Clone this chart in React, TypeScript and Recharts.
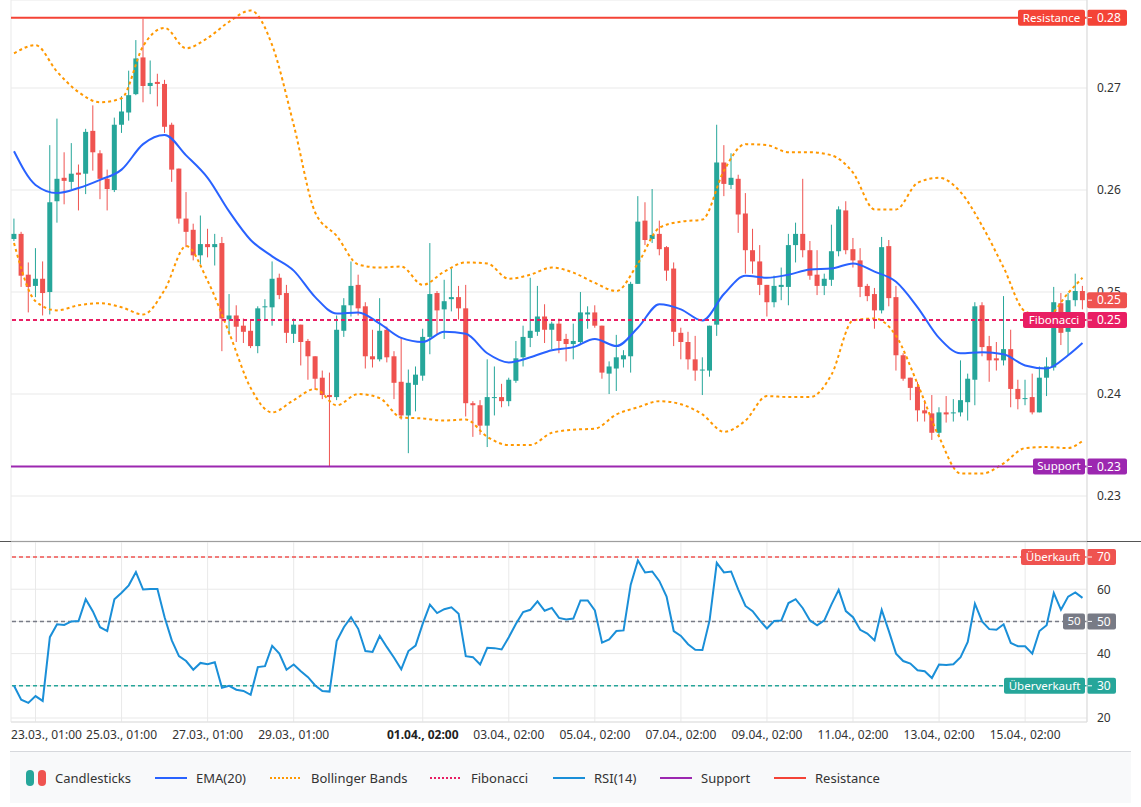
import React from 'react';
import {
  ComposedChart, Bar, Line, XAxis, YAxis, CartesianGrid, ReferenceLine,
} from 'recharts';

// 4h candles, 22.03. 13:00 -> 16.04. 10:00 (index based x axis)
const opens = [
  0.2552, 0.2557, 0.2517, 0.2506, 0.2513, 0.2500, 0.2589, 0.2612, 0.2608, 0.2617,
  0.2616, 0.2658, 0.2636, 0.2611, 0.2600, 0.2664, 0.2676, 0.2694, 0.2730, 0.2702,
  0.2706, 0.2704, 0.2664, 0.2621, 0.2572, 0.2561, 0.2536, 0.2547, 0.2544, 0.2548,
  0.2473, 0.2477, 0.2467, 0.2462, 0.2447, 0.2485, 0.2485, 0.2514, 0.2499, 0.2459,
  0.2468, 0.2452, 0.2437, 0.2416, 0.2399, 0.2397, 0.2462, 0.2487, 0.2507, 0.2486,
  0.2437, 0.2434, 0.2463, 0.2437, 0.2412, 0.2379, 0.2409, 0.2418, 0.2456, 0.2499,
  0.2483, 0.2493, 0.2495, 0.2484, 0.2391, 0.2389, 0.2369, 0.2396, 0.2397, 0.2393,
  0.2413, 0.2436, 0.2455, 0.2461, 0.2476, 0.2463, 0.2469, 0.2454, 0.2449, 0.2451,
  0.2478, 0.2480, 0.2467, 0.2420, 0.2425, 0.2434, 0.2437, 0.2508, 0.2570, 0.2552,
  0.2557, 0.2544, 0.2523, 0.2460, 0.2451, 0.2434, 0.2423, 0.2423, 0.2468, 0.2627,
  0.2605, 0.2611, 0.2577, 0.2541, 0.2530, 0.2507, 0.2490, 0.2505, 0.2505, 0.2546,
  0.2557, 0.2541, 0.2517, 0.2506, 0.2512, 0.2540, 0.2580, 0.2542, 0.2531, 0.2506,
  0.2498, 0.2482, 0.2545, 0.2495, 0.2438, 0.2416, 0.2407, 0.2384, 0.2381, 0.2362,
  0.2382, 0.2381, 0.2382, 0.2392, 0.2414, 0.2487, 0.2447, 0.2435, 0.2433, 0.2444,
  0.2405, 0.2395, 0.2397, 0.2382, 0.2416, 0.2426, 0.2489, 0.2461, 0.2492, 0.2501,
];
const highs = [
  0.2572, 0.2559, 0.2529, 0.2543, 0.2530, 0.2644, 0.2670, 0.2637, 0.2646, 0.2625,
  0.2660, 0.2683, 0.2639, 0.2620, 0.2671, 0.2692, 0.2717, 0.2747, 0.2768, 0.2727,
  0.2714, 0.2708, 0.2666, 0.2621, 0.2598, 0.2567, 0.2575, 0.2562, 0.2557, 0.2554,
  0.2498, 0.2487, 0.2474, 0.2473, 0.2486, 0.2493, 0.2530, 0.2518, 0.2507, 0.2474,
  0.2468, 0.2454, 0.2437, 0.2423, 0.2421, 0.2477, 0.2494, 0.2530, 0.2517, 0.2490,
  0.2463, 0.2494, 0.2466, 0.2442, 0.2455, 0.2424, 0.2427, 0.2464, 0.2548, 0.2501,
  0.2512, 0.2523, 0.2506, 0.2507, 0.2393, 0.2394, 0.2434, 0.2427, 0.2410, 0.2416,
  0.2452, 0.2467, 0.2514, 0.2506, 0.2488, 0.2471, 0.2474, 0.2459, 0.2469, 0.2500,
  0.2486, 0.2487, 0.2467, 0.2432, 0.2458, 0.2443, 0.2510, 0.2594, 0.2588, 0.2601,
  0.2570, 0.2545, 0.2529, 0.2465, 0.2461, 0.2457, 0.2436, 0.2467, 0.2664, 0.2644,
  0.2636, 0.2615, 0.2597, 0.2562, 0.2546, 0.2507, 0.2516, 0.2524, 0.2557, 0.2568,
  0.2611, 0.2550, 0.2541, 0.2518, 0.2566, 0.2584, 0.2589, 0.2553, 0.2543, 0.2508,
  0.2504, 0.2554, 0.2551, 0.2506, 0.2440, 0.2416, 0.2412, 0.2394, 0.2399, 0.2387,
  0.2398, 0.2395, 0.2433, 0.2420, 0.2490, 0.2490, 0.2457, 0.2451, 0.2496, 0.2463,
  0.2414, 0.2414, 0.2420, 0.2427, 0.2436, 0.2505, 0.2499, 0.2499, 0.2518, 0.2506,
];
const lows = [
  0.2550, 0.2505, 0.2480, 0.2495, 0.2477, 0.2478, 0.2568, 0.2586, 0.2601, 0.2580,
  0.2596, 0.2619, 0.2591, 0.2580, 0.2598, 0.2656, 0.2668, 0.2693, 0.2686, 0.2694,
  0.2682, 0.2656, 0.2608, 0.2567, 0.2544, 0.2531, 0.2527, 0.2534, 0.2526, 0.2442,
  0.2458, 0.2451, 0.2450, 0.2445, 0.2440, 0.2472, 0.2467, 0.2493, 0.2450, 0.2450,
  0.2428, 0.2414, 0.2404, 0.2395, 0.2329, 0.2394, 0.2456, 0.2476, 0.2477, 0.2425,
  0.2426, 0.2432, 0.2431, 0.2395, 0.2375, 0.2342, 0.2383, 0.2413, 0.2439, 0.2458,
  0.2454, 0.2481, 0.2473, 0.2378, 0.2358, 0.2360, 0.2348, 0.2379, 0.2387, 0.2388,
  0.2411, 0.2427, 0.2446, 0.2457, 0.2450, 0.2444, 0.2440, 0.2432, 0.2434, 0.2449,
  0.2464, 0.2465, 0.2415, 0.2400, 0.2403, 0.2426, 0.2421, 0.2508, 0.2546, 0.2548,
  0.2536, 0.2511, 0.2447, 0.2434, 0.2424, 0.2413, 0.2399, 0.2417, 0.2457, 0.2594,
  0.2601, 0.2558, 0.2518, 0.2518, 0.2497, 0.2476, 0.2485, 0.2492, 0.2487, 0.2529,
  0.2534, 0.2512, 0.2497, 0.2497, 0.2506, 0.2535, 0.2537, 0.2524, 0.2495, 0.2491,
  0.2464, 0.2479, 0.2486, 0.2423, 0.2413, 0.2394, 0.2373, 0.2373, 0.2355, 0.2358,
  0.2372, 0.2373, 0.2378, 0.2374, 0.2389, 0.2437, 0.2412, 0.2423, 0.2428, 0.2387,
  0.2385, 0.2389, 0.2380, 0.2382, 0.2398, 0.2423, 0.2448, 0.2438, 0.2486, 0.2483,
];
const closes = [
  0.2557, 0.2516, 0.2505, 0.2513, 0.2499, 0.2588, 0.2611, 0.2609, 0.2616, 0.2615,
  0.2657, 0.2637, 0.2611, 0.2601, 0.2664, 0.2677, 0.2693, 0.2729, 0.2702, 0.2705,
  0.2704, 0.2662, 0.2620, 0.2572, 0.2559, 0.2536, 0.2547, 0.2544, 0.2547, 0.2474,
  0.2477, 0.2466, 0.2461, 0.2447, 0.2484, 0.2486, 0.2513, 0.2497, 0.2460, 0.2468,
  0.2451, 0.2437, 0.2415, 0.2399, 0.2397, 0.2463, 0.2487, 0.2506, 0.2484, 0.2437,
  0.2434, 0.2462, 0.2436, 0.2411, 0.2379, 0.2411, 0.2419, 0.2456, 0.2498, 0.2482,
  0.2491, 0.2495, 0.2484, 0.2391, 0.2389, 0.2369, 0.2397, 0.2397, 0.2393, 0.2414,
  0.2435, 0.2456, 0.2462, 0.2476, 0.2463, 0.2469, 0.2452, 0.2449, 0.2452, 0.2480,
  0.2480, 0.2467, 0.2421, 0.2427, 0.2436, 0.2438, 0.2508, 0.2569, 0.2551, 0.2556,
  0.2542, 0.2521, 0.2461, 0.2451, 0.2434, 0.2423, 0.2424, 0.2467, 0.2627, 0.2606,
  0.2612, 0.2576, 0.2541, 0.2530, 0.2507, 0.2490, 0.2506, 0.2507, 0.2546, 0.2557,
  0.2541, 0.2516, 0.2506, 0.2513, 0.2540, 0.2581, 0.2541, 0.2531, 0.2505, 0.2496,
  0.2482, 0.2544, 0.2494, 0.2438, 0.2415, 0.2406, 0.2384, 0.2381, 0.2362, 0.2382,
  0.2380, 0.2382, 0.2394, 0.2415, 0.2486, 0.2446, 0.2433, 0.2433, 0.2444, 0.2405,
  0.2395, 0.2396, 0.2382, 0.2416, 0.2427, 0.2490, 0.2460, 0.2492, 0.2501, 0.2492,
];

const rsiValues = [
  30.0, 25.7, 24.7, 26.8, 25.3, 45.1, 49.1, 48.9, 50.0, 50.1,
  56.9, 53.1, 48.2, 47.0, 56.9, 58.9, 61.2, 65.3, 59.9, 60.1,
  60.1, 51.3, 44.1, 39.2, 37.7, 35.0, 37.1, 36.7, 37.3, 29.4,
  30.0, 28.8, 28.4, 27.2, 35.8, 36.1, 42.4, 40.0, 35.0, 36.6,
  34.5, 32.7, 30.1, 28.4, 28.2, 43.9, 48.2, 51.3, 47.7, 40.8,
  40.5, 45.5, 42.0, 38.7, 35.1, 40.8, 42.5, 49.3, 55.2, 52.6,
  53.8, 54.4, 52.4, 39.2, 38.9, 36.6, 41.8, 41.7, 41.3, 45.1,
  49.3, 52.9, 53.6, 56.2, 53.3, 54.2, 51.1, 50.6, 50.9, 56.5,
  56.5, 53.4, 43.4, 44.4, 47.0, 47.2, 61.4, 68.9, 65.2, 65.5,
  62.5, 57.7, 47.0, 45.5, 42.9, 41.2, 41.1, 50.3, 68.2, 65.2,
  65.5, 59.9, 54.8, 53.2, 50.3, 47.8, 50.1, 50.3, 55.7, 56.9,
  54.1, 50.3, 48.8, 50.3, 55.3, 59.8, 53.2, 51.3, 47.4, 46.2,
  44.1, 53.6, 47.0, 40.0, 37.7, 36.9, 34.8, 34.5, 32.4, 36.6,
  36.5, 36.7, 38.9, 43.6, 55.5, 50.0, 47.6, 47.4, 49.1, 43.3,
  42.3, 42.3, 40.0, 47.0, 48.8, 58.8, 53.6, 57.7, 59.0, 57.3,
];

const emaValues = [
  0.2638, 0.2605, 0.2597, 0.2602, 0.2610, 0.2620, 0.2645, 0.2654, 0.2634, 0.2612,
  0.2579, 0.2551, 0.2535, 0.2521, 0.2495, 0.2479, 0.2480, 0.2469, 0.2455, 0.2451,
  0.2461, 0.2459, 0.2440, 0.2431, 0.2436, 0.2443, 0.2446, 0.2454, 0.2447, 0.2465,
  0.2488, 0.2483, 0.2472, 0.2498, 0.2516, 0.2514, 0.2517, 0.2522, 0.2523, 0.2528,
  0.2520, 0.2510, 0.2485, 0.2455, 0.2440, 0.2441, 0.2439, 0.2428, 0.2425, 0.2438,
  0.2450,
];
const bbUpper = [
  0.2734, 0.2742, 0.2716, 0.2696, 0.2686, 0.2690, 0.2741, 0.2759, 0.2739, 0.2749,
  0.2765, 0.2776, 0.2742, 0.2664, 0.2578, 0.2555, 0.2527, 0.2524, 0.2525, 0.2507,
  0.2520, 0.2529, 0.2528, 0.2513, 0.2517, 0.2524, 0.2519, 0.2509, 0.2501, 0.2528,
  0.2563, 0.2569, 0.2571, 0.2619, 0.2645, 0.2644, 0.2637, 0.2637, 0.2634, 0.2617,
  0.2581, 0.2581, 0.2607, 0.2612, 0.2598, 0.2565, 0.2524, 0.2481, 0.2476, 0.2499,
  0.2514,
];
const bbLower = [
  0.2548, 0.2491, 0.2482, 0.2487, 0.2489, 0.2485, 0.2478, 0.2502, 0.2545, 0.2511,
  0.2460, 0.2406, 0.2382, 0.2394, 0.2405, 0.2389, 0.2400, 0.2396, 0.2377, 0.2376,
  0.2374, 0.2375, 0.2358, 0.2350, 0.2350, 0.2362, 0.2365, 0.2366, 0.2380, 0.2387,
  0.2393, 0.2390, 0.2380, 0.2363, 0.2374, 0.2398, 0.2397, 0.2397, 0.2419, 0.2472,
  0.2474, 0.2457, 0.2410, 0.2358, 0.2322, 0.2322, 0.2332, 0.2347, 0.2348, 0.2347,
  0.2354,
];
const sampleIdx = [...Array.from({ length: 50 }, (_, k) => k * 3), 149];

const tickIdx = [3, 15, 27, 39, 57, 69, 81, 93, 105, 117, 129, 141];
const tickLabels = [
  '23.03., 01:00', '25.03., 01:00', '27.03., 01:00', '29.03., 01:00',
  '01.04., 02:00', '03.04., 02:00', '05.04., 02:00', '07.04., 02:00',
  '09.04., 02:00', '11.04., 02:00', '13.04., 02:00', '15.04., 02:00',
];

const RESISTANCE = 0.2769;
const SUPPORT = 0.2329;
const FIBONACCI = 0.24725;

const GREEN = '#26a69a';
const RED = '#ef5350';
const FONT = '"Noto Sans", "DejaVu Sans", sans-serif';

const rows: any[] = opens.map((o, i) => ({
  i, open: o, high: highs[i], low: lows[i], close: closes[i],
  range: [lows[i], highs[i]], rsi: rsiValues[i],
}));
sampleIdx.forEach((idx, k) => {
  rows[idx].ema = emaValues[k];
  rows[idx].bbUp = bbUpper[k];
  rows[idx].bbLo = bbLower[k];
});

function Candle(props: any) {
  const { x, y, width, height, payload } = props;
  if (!payload || height == null) return null;
  const { open, close, high, low } = payload;
  const top = Math.min(y, y + height);
  const h = Math.abs(height);
  const k = h / (high - low);
  const py = (v: number) => top + (high - v) * k;
  const color = close >= open ? GREEN : RED;
  const cx = x + width / 2;
  const bTop = py(Math.max(open, close));
  const bBot = py(Math.min(open, close));
  return (
    <g>
      <line x1={cx} x2={cx} y1={top} y2={top + h} stroke={color} strokeWidth={1} />
      <rect x={cx - 2.5} y={bTop} width={5} height={Math.max(1, bBot - bTop)} fill={color} />
    </g>
  );
}

// label boxes on the right axis
function makeTag(name: string, value: string, color: string, nameW: number, valueW: number) {
  return (props: any) => {
    const vb = props.viewBox || {};
    const right = vb.x + vb.width;
    const y = vb.y;
    return (
      <g style={{ fontFamily: FONT }}>
        {name ? (
          <>
            <rect x={right - 2 - nameW} y={y - 8} width={nameW} height={16} rx={2} fill={color} />
            <text x={right - 2 - nameW / 2} y={y + 4} textAnchor="middle" fill="#fff" fontSize={11.5}>{name}</text>
          </>
        ) : null}
        <rect x={right} y={y - 8} width={valueW} height={16} rx={2} fill={color} />
        <line x1={right + 1} x2={right + 5} y1={y} y2={y} stroke="#fff" />
        <text x={right + 10} y={y + 4.3} fill="#fff" fontSize={12}>{value}</text>
      </g>
    );
  };
}

const PriceTick = (props: any) => {
  const { x, y, payload } = props;
  return (
    <text x={x + 10} y={y + 4.3} fontSize={12} fill="#333" fontFamily={FONT}>
      {Number(payload.value).toFixed(2)}
    </text>
  );
};

const RsiTick = (props: any) => {
  const { x, y, payload } = props;
  if ([30, 50, 70].includes(payload.value)) return null;
  return (
    <text x={x + 10} y={y + 4.3} fontSize={12} fill="#333" fontFamily={FONT}>{payload.value}</text>
  );
};

const TimeTick = (props: any) => {
  const { x, y, payload, index } = props;
  const label = tickLabels[tickIdx.indexOf(payload.value)];
  const first = index === 0;
  const bold = payload.value === 57;
  return (
    <text
      x={first ? x - 24.5 : x}
      y={y + 17}
      textAnchor={first ? 'start' : 'middle'}
      fontSize={12}
      fontWeight={bold ? 700 : 400}
      fill={bold ? '#222' : '#333'}
      fontFamily={FONT}
    >
      {label}
    </text>
  );
};

function LegendLine({ color, dash }: { color: string; dash?: string }) {
  return (
    <svg width={32} height={4} style={{ display: 'block' }}>
      <line x1={0} x2={32} y1={2} y2={2} stroke={color} strokeWidth={2} strokeDasharray={dash} />
    </svg>
  );
}

function LegendItem({ left, icon, text }: { left: number; icon: React.ReactNode; text: string }) {
  return (
    <div style={{ position: 'absolute', left, top: 0, height: 51, display: 'flex', alignItems: 'center', gap: 9 }}>
      {icon}
      <span>{text}</span>
    </div>
  );
}

const X_DOMAIN: [number, number] = [-0.42, 149.63];
const PRICE_DOMAIN: [number, number] = [0.22559, 0.27863];
const lastClose = closes[closes.length - 1];

export default function App() {
  return (
    <div style={{ position: 'absolute', left: 0, top: 0, width: 1141, height: 807, background: '#fff', fontFamily: FONT, overflow: 'hidden' }}>
      <ComposedChart width={1141} height={541} data={rows} margin={{ top: 0, right: 0, left: 11, bottom: 0 }}>
        <CartesianGrid stroke="#e9e9e9" />
        <XAxis dataKey="i" type="number" domain={X_DOMAIN} allowDataOverflow ticks={tickIdx} interval={0}
          height={0} tick={false} axisLine={false} tickLine={false} />
        <YAxis orientation="right" width={54} domain={PRICE_DOMAIN} allowDataOverflow
          ticks={[0.23, 0.24, 0.25, 0.26, 0.27]} tick={<PriceTick />} tickLine={false} tickSize={0} tickMargin={0}
          axisLine={{ stroke: '#dddddd' }} />
        <Bar dataKey="range" barSize={5} shape={(p: any) => <Candle {...p} />} isAnimationActive={false} />
        <Line dataKey="bbUp" type="monotone" stroke="#ff9800" strokeWidth={2} strokeDasharray="3 3" dot={false} connectNulls isAnimationActive={false} />
        <Line dataKey="bbLo" type="monotone" stroke="#ff9800" strokeWidth={2} strokeDasharray="3 3" dot={false} connectNulls isAnimationActive={false} />
        <Line dataKey="ema" type="monotone" stroke="#2962ff" strokeWidth={2} dot={false} connectNulls isAnimationActive={false} />
        <ReferenceLine y={FIBONACCI} stroke="#e91e63" strokeWidth={2} strokeDasharray="4 3"
          label={makeTag('Fibonacci', FIBONACCI.toFixed(2), '#e91e63', 62, 40)} />
        <ReferenceLine y={RESISTANCE} stroke="#f44336" strokeWidth={2}
          label={makeTag('Resistance', RESISTANCE.toFixed(2), '#f44336', 67, 40)} />
        <ReferenceLine y={SUPPORT} stroke="#9c27b0" strokeWidth={2}
          label={makeTag('Support', SUPPORT.toFixed(2), '#9c27b0', 52, 40)} />
      </ComposedChart>

      {/* last price tag drawn above the axis labels */}
      <div style={{ position: 'absolute', left: 0, top: 0, pointerEvents: 'none' }}>
        <ComposedChart width={1141} height={541} data={rows} margin={{ top: 0, right: 0, left: 11, bottom: 0 }}>
          <XAxis dataKey="i" type="number" domain={X_DOMAIN} allowDataOverflow hide />
          <YAxis orientation="right" width={54} domain={PRICE_DOMAIN} allowDataOverflow tick={false} axisLine={false} tickLine={false} />
          <ReferenceLine y={lastClose} stroke="#ef5350" strokeOpacity={0}
            label={makeTag('', lastClose.toFixed(2), '#ef5350', 0, 40)} />
        </ComposedChart>
      </div>

      <div style={{ position: 'absolute', left: 0, top: 541, width: 1141, height: 1, background: '#555' }} />

      <div style={{ position: 'absolute', left: 0, top: 541 }}>
        <ComposedChart width={1141} height={210} data={rows} margin={{ top: 1, right: 0, left: 11, bottom: 0 }}>
          <CartesianGrid stroke="#e9e9e9" />
          <XAxis dataKey="i" type="number" domain={X_DOMAIN} allowDataOverflow ticks={tickIdx} interval={0}
            height={29} tick={<TimeTick />} tickLine={false} tickSize={0} tickMargin={0}
            axisLine={{ stroke: '#e0e0e0' }} />
          <YAxis orientation="right" width={54} domain={[18.76, 74.66]} allowDataOverflow
            ticks={[20, 30, 40, 50, 60, 70]} tick={<RsiTick />} tickLine={false} tickSize={0} tickMargin={0}
            axisLine={{ stroke: '#dddddd' }} />
          <ReferenceLine y={70} stroke={RED} strokeWidth={1.5} strokeDasharray="4 3"
            label={makeTag('Überkauft', '70', RED, 64, 29)} />
          <ReferenceLine y={50} stroke="#787b86" strokeWidth={1.5} strokeDasharray="4 3"
            label={makeTag('50', '50', '#787b86', 22, 29)} />
          <ReferenceLine y={30} stroke={GREEN} strokeWidth={1.5} strokeDasharray="4 3"
            label={makeTag('Überverkauft', '30', GREEN, 81, 29)} />
          <Line dataKey="rsi" stroke="#1a8fd8" strokeWidth={2} dot={false} isAnimationActive={false} />
        </ComposedChart>
      </div>

      <div style={{ position: 'absolute', left: 10, top: 751, width: 1121, height: 51, background: '#f8f9fa', borderTop: '1px solid #d6d8dc', fontSize: 13, color: '#333' }}>
        <LegendItem left={16} text="Candlesticks" icon={
          <div style={{ display: 'flex', gap: 4 }}>
            <div style={{ width: 8, height: 16, borderRadius: 4, background: GREEN }} />
            <div style={{ width: 8, height: 16, borderRadius: 4, background: RED }} />
          </div>
        } />
        <LegendItem left={145} text="EMA(20)" icon={<LegendLine color="#2962ff" />} />
        <LegendItem left={260} text="Bollinger Bands" icon={<LegendLine color="#ff9800" dash="2 2" />} />
        <LegendItem left={420} text="Fibonacci" icon={<LegendLine color="#e91e63" dash="2 2" />} />
        <LegendItem left={543} text="RSI(14)" icon={<LegendLine color="#1a8fd8" />} />
        <LegendItem left={650} text="Support" icon={<LegendLine color="#9c27b0" />} />
        <LegendItem left={764} text="Resistance" icon={<LegendLine color="#f44336" />} />
      </div>
    </div>
  );
}
